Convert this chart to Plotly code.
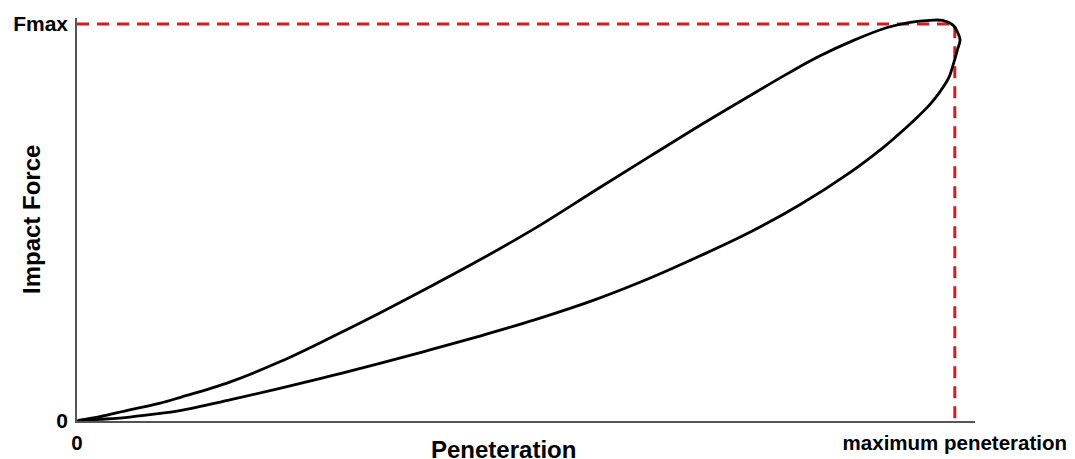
import plotly.graph_objects as go

# Normalised penetration (0 = origin, 1 = maximum penetration)
# Normalised force (0 = origin, 1 = Fmax)
load_pen = [0.0, 0.026, 0.060, 0.095, 0.117, 0.174, 0.231, 0.288, 0.345, 0.402,
            0.459, 0.523, 0.592, 0.653, 0.710, 0.767, 0.812, 0.846, 0.884, 0.923,
            0.949, 0.972, 0.986, 0.998, 1.003, 1.006]
load_force = [0.0, 0.011, 0.028, 0.045, 0.059, 0.098, 0.149, 0.209, 0.272, 0.338,
              0.406, 0.487, 0.583, 0.667, 0.745, 0.820, 0.878, 0.919, 0.958, 0.991,
              1.004, 1.009, 1.009, 0.997, 0.980, 0.960]

unload_pen = [1.003, 0.999, 0.993, 0.983, 0.972, 0.954, 0.934, 0.918, 0.880, 0.823,
              0.767, 0.710, 0.653, 0.592, 0.523, 0.459, 0.402, 0.345, 0.288, 0.231,
              0.174, 0.117, 0.095, 0.060, 0.026, 0.0]
unload_force = [0.935, 0.904, 0.864, 0.829, 0.798, 0.758, 0.718, 0.688, 0.625, 0.544,
                0.476, 0.416, 0.360, 0.307, 0.256, 0.214, 0.179, 0.145, 0.113, 0.082,
                0.053, 0.026, 0.019, 0.010, 0.004, 0.0]

ref_pen = [0.0, 1.0, 1.0]
ref_force = [1.0, 1.0, 0.0]

x_tickvals = [0, 1]
x_ticktext = ["0", "maximum peneteration"]
y_tickvals = [0, 1]
y_ticktext = ["0", "Fmax"]

FONT = "Liberation Sans, Arial, sans-serif"

fig = go.Figure()
fig.add_trace(go.Scatter(
    x=ref_pen, y=ref_force, mode="lines",
    line=dict(color="#d41c23", width=3, dash="12px,8px"),
    hoverinfo="skip", showlegend=False))
fig.add_trace(go.Scatter(
    x=load_pen + unload_pen, y=load_force + unload_force, mode="lines",
    line=dict(color="black", width=2.8, shape="spline", smoothing=1.0),
    showlegend=False))

# the page body adds an 8px offset, so the figure is 8px smaller on each side
fig.update_layout(
    width=1067, height=451,
    margin=dict(l=69, r=100, t=10, b=38, autoexpand=False),
    paper_bgcolor="white", plot_bgcolor="white",
    font=dict(family=FONT, color="black"),
    xaxis=dict(range=[0, 1.023], showgrid=False, zeroline=False, automargin=False,
               showline=True, linecolor="#555", linewidth=1.5,
               tickvals=x_tickvals, ticktext=x_ticktext, ticks="",
               tickfont=dict(size=20.5, family=FONT, weight="bold"),
               ticklabelstandoff=3),
    yaxis=dict(range=[0, 1.015], showgrid=False, zeroline=False, automargin=False,
               showline=True, linecolor="#555", linewidth=1.5,
               tickvals=y_tickvals, ticktext=y_ticktext, ticks="",
               tickfont=dict(size=21, family=FONT, weight="bold"),
               ticklabelstandoff=3),
    annotations=[
        dict(text="<b>Peneteration</b>", xref="paper", yref="paper",
             x=(503 - 77) / 898, y=-(449 - 421) / 403, xanchor="center", yanchor="middle",
             showarrow=False, font=dict(size=24, family=FONT)),
        dict(text="<b>Impact Force</b>", xref="paper", yref="paper",
             x=-(77 - 31) / 898, y=(421 - 220) / 403, xanchor="center", yanchor="middle",
             textangle=-90, showarrow=False, font=dict(size=24, family=FONT)),
    ],
)

fig.write_html("out.html")
